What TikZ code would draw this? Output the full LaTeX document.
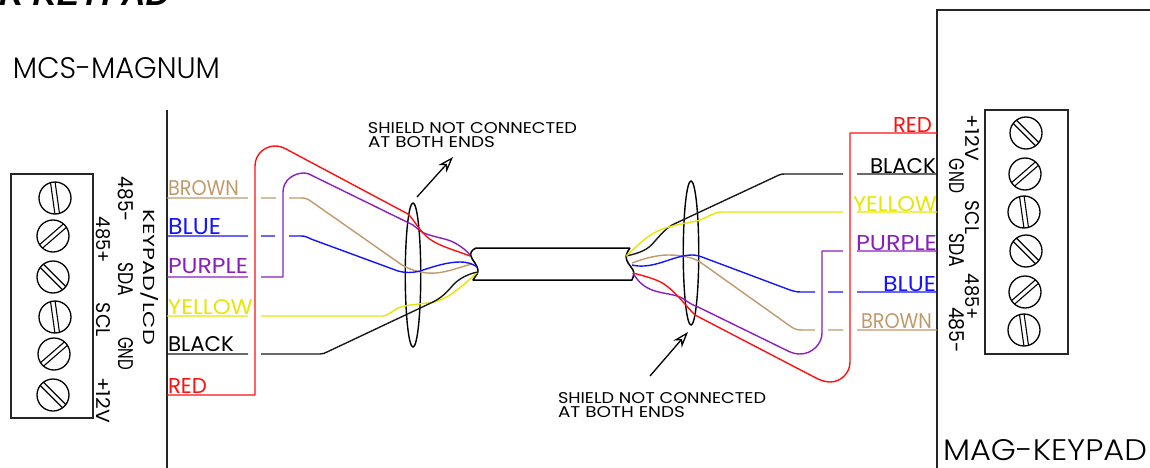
\documentclass[tikz,border=0pt]{standalone}
\usepackage{fontspec}
\usepackage{graphicx}
\usetikzlibrary{shapes.geometric,arrows.meta}
\newfontfamily\cadfont{Poppins}
\newfontfamily\cadlight{Poppins Light}
\newfontfamily\ttlfont{Liberation Sans}
\definecolor{wbrown}{HTML}{C09A6B}
\definecolor{wblue}{HTML}{1414FF}
\definecolor{wpurple}{HTML}{8A1FBF}
\definecolor{wyellow}{HTML}{E6E600}
\definecolor{wred}{HTML}{FF1010}
\definecolor{wblack}{HTML}{1A1A1A}
\tikzset{
  lbl/.style={inner sep=0pt,outer sep=0pt,anchor=center},
  wire/.style={line width=1.4pt,line join=round,line cap=butt},
  frameline/.style={line width=1.5pt,draw=black!85},
  blockbox/.style={draw=black!85,line width=1.4pt,inner sep=0pt,rectangle},
  screwhead/.style={draw=black,line width=1.3pt,circle,inner sep=0pt,minimum size=32pt},
  slotline/.style={draw=black,line width=1.1pt},
  shield/.style={draw=black,line width=1.4pt,ellipse,inner sep=0pt,minimum width=15.5pt,minimum height=144pt},
  cablestyle/.style={draw=black,line width=1.5pt,line join=round},
  ptr/.style={draw=black,line width=1.3pt,-{Stealth[open,length=16pt,width=11pt,inset=5pt]}}
}
% name, cx, cy, width, height, colour, text, rotation
\newcommand{\lab}[8]{\node[lbl,text=#6,rotate=#8] (#1) at (#2,#3) {\resizebox{#4pt}{#5pt}{\raisebox{0pt}[\height][0pt]{\cadfont #7}}};}
\newcommand{\labbig}[7]{\node[lbl,text=#6] (#1) at (#2,#3) {\resizebox{#4pt}{#5pt}{\raisebox{0pt}[\height][0pt]{\cadlight #7}}};}
\newcommand{\screwat}[4]{%
  \node[screwhead] (#1) at (#2,#3) {};
  \draw[slotline,shift={(#2,#3)},rotate=#4] (-15.8,-2.3) -- (15.8,-2.3) (-15.8,2.3) -- (15.8,2.3);
}
\begin{document}
\begin{tikzpicture}[x=1pt,y=-1pt]
\useasboundingbox (0,0) rectangle (1150,468);
\begin{scope}
\clip (0,0) rectangle (1150,468);
\node[anchor=base east,inner sep=0pt] (title) at (170,6) {\fontsize{33.5pt}{36pt}\selectfont\ttlfont\bfseries\itshape R KEYPAD};
\end{scope}

% frames
\coordinate (lt) at (167,110); \coordinate (lb) at (167,468);
\coordinate (rt) at (937,10);  \coordinate (rb) at (937,468); \coordinate (rr) at (1150,10);
\draw[frameline] (lt) -- (lb);
\draw[frameline] (rb) -- (rt) -- (rr);

% terminal blocks
\node[blockbox,minimum width=82pt,minimum height=244pt] (blockL) at (52,296) {};
\node[blockbox,minimum width=83pt,minimum height=244pt] (blockR) at (1026.5,232) {};
\screwat{sl1}{55}{198}{98}
\screwat{sl2}{53}{236}{41}
\screwat{sl3}{53}{277}{135}
\screwat{sl4}{55}{317}{98}
\screwat{sl5}{54}{354}{41}
\screwat{sl6}{53}{395}{135}
\screwat{sr1}{1026}{133}{135}
\screwat{sr2}{1025}{174}{41}
\screwat{sr3}{1024}{212}{98}
\screwat{sr4}{1026}{251}{135}
\screwat{sr5}{1025}{292}{41}
\screwat{sr6}{1024}{330}{98}

% titles
\labbig{mcs}{116.5}{67.5}{207}{21}{black}{MCS-MAGNUM}
\labbig{mag}{1045}{449.5}{204}{21}{black}{MAG-KEYPAD}

% pin labels
\lab{p1}{125.5}{199.5}{45}{15}{black}{485-}{-90}
\lab{p2}{103}{240}{46}{14}{black}{485+}{-90}
\lab{p3}{150.5}{277.5}{135}{15}{black}{KEYPAD/LCD}{-90}
\lab{p4}{125.5}{279}{34}{15}{black}{SDA}{-90}
\lab{p5}{103}{320}{34}{14}{black}{SCL}{-90}
\lab{p6}{125.5}{353.5}{33}{15}{black}{GND}{-90}
\lab{p7}{103}{400}{46}{14}{black}{+12V}{-90}
\lab{q1}{972}{138}{46}{14}{black}{+12V}{-90}
\lab{q2}{956.5}{176}{34}{15}{black}{GND}{-90}
\lab{q3}{972}{217.5}{33}{14}{black}{SCL}{-90}
\lab{q4}{956.5}{250}{34}{15}{black}{SDA}{-90}
\lab{q5}{972}{297}{46}{14}{black}{485+}{-90}
\lab{q6}{956.5}{330}{46}{15}{black}{485-}{-90}

% colour labels, left
\lab{lbr}{203.5}{187.5}{71}{15}{wbrown}{BROWN}{0}
\lab{lbl}{194.5}{226}{53}{16}{wblue}{BLUE}{0}
\lab{lpu}{208}{265.5}{80}{15}{wpurple}{PURPLE}{0}
\lab{lye}{210.5}{306.5}{85}{15}{wyellow}{YELLOW}{0}
\lab{lbk}{201}{343.5}{66}{15}{black}{BLACK}{0}
\lab{lrd}{187.5}{385.5}{39}{15}{wred}{RED}{0}
% colour labels, right
\lab{rrd}{912.5}{124.5}{39}{15}{wred}{RED}{0}
\lab{rbk}{903}{165.5}{66}{15}{black}{BLACK}{0}
\lab{rye}{895}{203.5}{84}{15}{wyellow}{YELLOW}{0}
\lab{rpu}{896.5}{242.5}{81}{15}{wpurple}{PURPLE}{0}
\lab{rbl}{909.5}{283.5}{53}{15}{wblue}{BLUE}{0}
\lab{rbr}{896.5}{320.5}{71}{15}{wbrown}{BROWN}{0}

% shield notes
\lab{n1a}{472.5}{127.5}{209}{11}{black}{SHIELD NOT CONNECTED}{0}
\lab{n1b}{431.5}{141.5}{127}{11}{black}{AT BOTH ENDS}{0}
\lab{n2a}{662}{397.5}{208}{11}{black}{SHIELD NOT CONNECTED}{0}
\lab{n2b}{621.5}{411.5}{127}{11}{black}{AT BOTH ENDS}{0}

% shields and pointers
\node[shield] (shL) at (413,275) {};
\node[shield] (shR) at (691,253) {};
\coordinate (a1s) at (417,197); \coordinate (a1e) at (453,157);
\coordinate (a2s) at (650,376); \coordinate (a2e) at (688,332);
\draw[ptr] (a1s) -- (a1e);
\draw[ptr] (a2s) -- (a2e);

% cable
\coordinate (cl) at (478,272);
\coordinate (cr) at (626,256);
\draw[cablestyle] (630,248) -- (476,248) .. controls (471,250) and (470,254) .. (471,256)
  .. controls (472,261) and (478,264) .. (cl) .. controls (477,275) and (474,278) .. (473,280) -- (632,280)
  .. controls (634,276) and (634,272) .. (633,270) .. controls (630,265) and (626,262) .. (cr)
  .. controls (627,253) and (628,250) .. (630,248);

% left wires
\coordinate (e-br) at (472,264);
\coordinate (e-bl) at (477,267);
\coordinate (e-pu) at (470,255);
\coordinate (e-rd) at (470,256);
\draw[wire,wbrown] (167,198) -- (248,198) (261,198) -- (276,198) (289,198) -- (301,198)
  .. controls (306,198) and (308,199) .. (312,202) -- (402,265)
  .. controls (412,271) and (425,274) .. (436,273) .. controls (448,272) and (460,267) .. (e-br);
\draw[wire,wblue] (167,236) -- (248,236) (261,236) -- (275,236) (289,236) -- (301,236)
  .. controls (305,236) and (307,237) .. (311,239) -- (398,271)
  .. controls (405,273) and (412,273) .. (420,271) .. controls (435,266) and (448,262) .. (460,262)
  .. controls (468,262) and (473,264) .. (e-bl);
\draw[wire,wpurple] (167,277) -- (248,277) (261,277) -- (283,277) -- (283,192)
  .. controls (283,180) and (294,173) .. (304,173) .. controls (307,173) and (310,174) .. (313,176)
  -- (413,225) .. controls (418,229) and (420,231) .. (424,233)
  .. controls (436,238) and (446,238) .. (455,243) .. controls (462,247) and (467,251) .. (e-pu);
\draw[wire,wred] (167,395) -- (255,395) -- (255,166)
  .. controls (255,154) and (265,146) .. (275,146) .. controls (279,146) and (282,147) .. (286,149)
  -- (408,214) .. controls (414,220) and (418,228) .. (424,234)
  .. controls (434,245) and (452,249) .. (e-rd);
\draw[wire,wyellow] (167,316) -- (248,316) (261,316) -- (383,316)
  .. controls (388,316) and (392,311) .. (398,308) .. controls (408,304) and (425,304) .. (434,302)
  .. controls (450,298) and (462,286) .. (cl);
\draw[wire,wblack] (167,354) -- (248,354) (261,354) -- (320,354) .. controls (323,354) and (325,353) .. (327,352)
  -- (433,302) .. controls (445,296) and (450,288) .. (455,283) .. controls (463,276) and (472,273) .. (cl);

% right wires
\draw[wire,wblack] (cr) .. controls (640,253) and (648,250) .. (655,241) .. controls (662,233) and (667,228) .. (672,225)
  -- (779,175) .. controls (781,174) and (783,174) .. (785,174) -- (843,174) (857,174) -- (937,174);
\draw[wire,wyellow] (cr) .. controls (638,245) and (648,235) .. (658,231) .. controls (670,225) and (690,223) .. (700,220)
  .. controls (708,217) and (714,212) .. (722,212) -- (843,212) (857,212) -- (937,212);
\draw[wire,wbrown] (632,263) .. controls (645,258) and (658,255) .. (668,255)
  .. controls (680,255) and (692,257) .. (700,262) -- (790,326)
  .. controls (794,329) and (797,330) .. (802,330) -- (815,330) (828,330) -- (843,330) (857,330) -- (937,330);
\draw[wire,wblue] (632,265) .. controls (640,267) and (648,266) .. (656,264)
  .. controls (668,261) and (680,255) .. (692,255) .. controls (696,255) and (699,256) .. (702,257)
  -- (790,290) .. controls (793,291) and (796,292) .. (801,292) -- (815,292) (828,292) -- (843,292) (857,292) -- (937,292);
\draw[wire,wpurple] (633,273) .. controls (638,282) and (645,288) .. (655,291)
  .. controls (665,294) and (674,294) .. (682,298) .. controls (688,302) and (692,305) .. (698,307)
  -- (788,351) .. controls (792,353) and (796,354) .. (800,354)
  .. controls (812,354) and (822,344) .. (822,333) -- (822,251) -- (843,251) (857,251) -- (937,251);
\draw[wire,wred] (633,273) .. controls (648,277) and (660,280) .. (668,287)
  .. controls (678,295) and (686,306) .. (695,315) -- (816,378)
  .. controls (820,380) and (825,382) .. (830,382) .. controls (841,382) and (850,373) .. (850,362)
  -- (850,133) -- (937,133);
\end{tikzpicture}
\end{document}
